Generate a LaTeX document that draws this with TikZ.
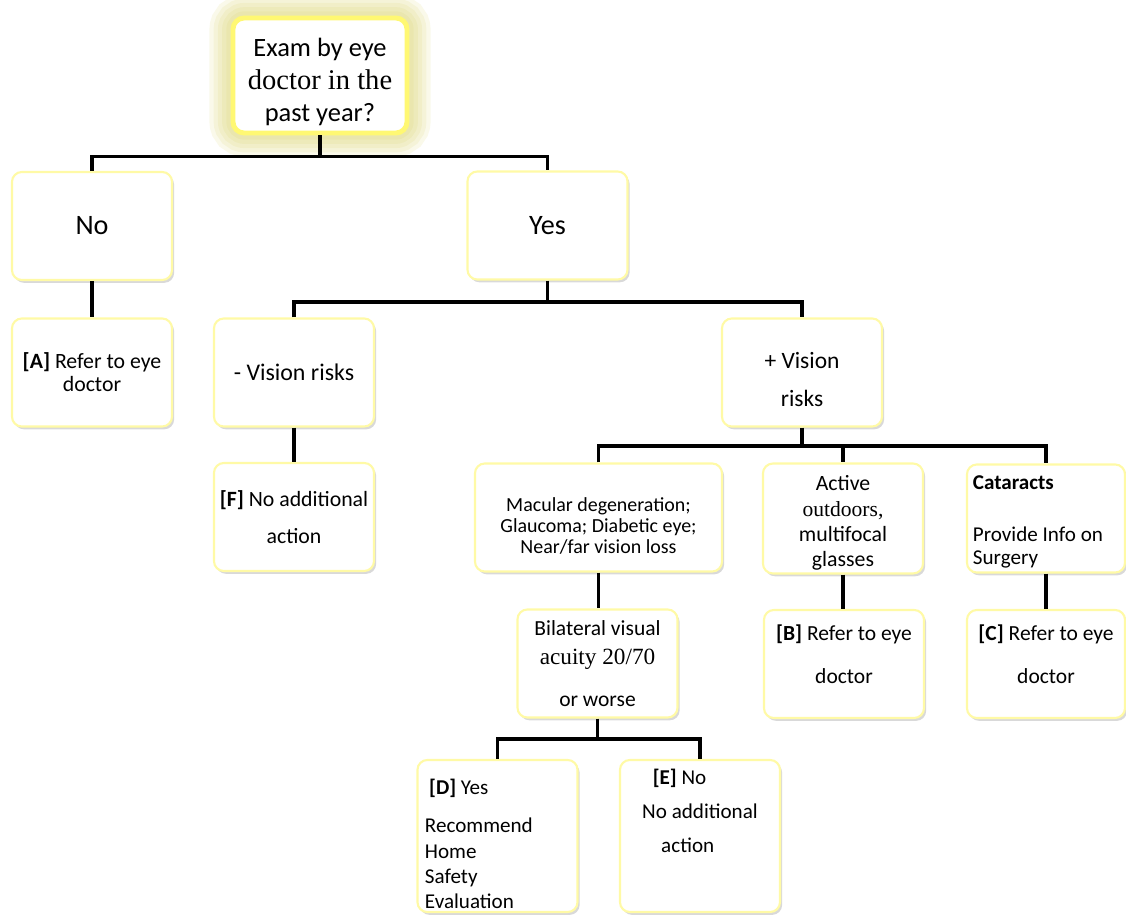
\documentclass[tikz,border=0pt]{standalone}
\usepackage{fontspec}
\setmainfont{Carlito}
\newfontfamily\cambriafont[Scale=1.08]{Liberation Serif}
\usetikzlibrary{shadows,backgrounds}

\tikzset{
  box/.style={rectangle, rounded corners=7pt, draw=yellow!35, line width=1.5pt,
    fill=white, minimum width=4cm, minimum height=2.7cm, align=center, inner sep=2pt,
    drop shadow={opacity=0.3, shadow xshift=1.5pt, shadow yshift=-2pt}},
  rootbox/.style={rectangle, rounded corners=8pt, draw=yellow!55, line width=3.5pt,
    fill=white, minimum width=4.35cm, minimum height=2.875cm, align=center, inner sep=2pt},
  link/.style={line width=2.8pt, black},
}

\begin{document}
\begin{tikzpicture}[x={(0.025cm,0)}, y={(0,-0.025cm)}]
    % Page frame (pixel units, y pointing down)
    \useasboundingbox (0,0) rectangle (1126,916);

    % Root question with yellow glow
    \node[rootbox, font=\fontsize{18.8}{23}\selectfont] (root) at (320,75.5)
      {\rule{0pt}{22.5pt}Exam by eye\\{\cambriafont doctor in the}\\past year?};
    \begin{scope}[on background layer]
      \foreach \w in {30,24,18,12,6} {
        \draw[yellow!60!gray, opacity=0.12, line width=\w pt, rounded corners=10pt]
          (root.north west) rectangle (root.south east);
      }
    \end{scope}

    % First level
    \node[box, font=\fontsize{20}{22}\selectfont] (no) at (92,226) {No};
    \node[box, font=\fontsize{20}{22}\selectfont] (yes) at (547.5,225.5) {Yes};

    % Second level
    \node[box, font=\fontsize{15.5}{16.5}\selectfont] (refA) at (92,372.5)
      {\textbf{[A]} Refer to eye\\doctor};
    \node[box, font=\fontsize{17}{19}\selectfont] (minusrisk) at (294,372.5) {- Vision risks};
    \node[box, font=\fontsize{16.7}{27}\selectfont] (plusrisk) at (802,372.5)
      {\rule{0pt}{22pt}+ Vision\\risks};

    % Third level
    \node[box, font=\fontsize{15.5}{26}\selectfont] (actF) at (294,517)
      {\textbf{[F]} No additional\\action};
    \node[box, minimum width=6.175cm, font=\fontsize{14.2}{15}\selectfont] (macular) at (598.5,517.5)
      {\rule{0pt}{22pt}Macular degeneration;\\Glaucoma; Diabetic eye;\\Near/far vision loss};
    \node[box, font=\fontsize{15.5}{18}\selectfont] (active) at (843,518.5)
      {\rule{0pt}{17.5pt}Active\\{\cambriafont\fontsize{14.2}{18}\selectfont outdoors,}\\multifocal\\glasses};
    \node[box, minimum width=3.95cm, text width=3.65cm, align=flush left, font=\fontsize{15}{16.5}\selectfont] (cataract) at (1046,518.5)
      {\rule{0pt}{15pt}\textbf{Cataracts}\\[20pt]Provide Info on\\Surgery};

    % Fourth level
    \node[box, font=\fontsize{15.3}{21}\selectfont] (acuity) at (597.5,663.5)
      {Bilateral visual\\{\cambriafont acuity 20/70}\\[9pt]or worse};
    \node[box, font=\fontsize{15.3}{30}\selectfont] (refB) at (844,664)
      {\textbf{[B]} Refer to eye\\doctor\\[-16pt]\mbox{}};
    \node[box, minimum width=3.95cm, font=\fontsize{15.3}{30}\selectfont] (refC) at (1046,664)
      {\textbf{[C]} Refer to eye\\doctor\\[-16pt]\mbox{}};

    % Fifth level
    \node[box, minimum height=3.8cm, text width=3.625cm, align=flush left, font=\fontsize{15}{18}\selectfont] (homeD) at (497.5,836)
      {\rule{0pt}{22.7pt}\hspace*{3pt}\textbf{[D]} Yes\\[9pt]Recommend\\Home\\Safety\\Evaluation};
    \node[box, minimum height=3.8cm, align=left, font=\fontsize{15}{24}\selectfont] (noE) at (700,836)
      {\hspace*{0.5em}\textbf{[E]} No\\No additional\\\hspace*{0.9em}action\\[12pt]\mbox{}};

    % Connectors
    \draw[link] (root.south) -- ++(0,21) coordinate (j1);
    \draw[link] (no.north) |- (j1) -| (yes.north);
    \draw[link] (no.south) -- (refA.north);
    \draw[link] (yes.south) -- ++(0,21) coordinate (j2);
    \draw[link] (minusrisk.north) |- (j2) -| (plusrisk.north);
    \draw[link] (minusrisk.south) -- (actF.north);
    \draw[link] (plusrisk.south) -- ++(0,18) coordinate (j3);
    \draw[link] (macular.north) |- (j3) -| (cataract.north);
    \draw[link] (j3 -| active.north) -- (active.north);
    \draw[link] (macular.south) -- (macular.south |- acuity.north);
    \draw[link] (active.south) -- (active.south |- refB.north);
    \draw[link] (cataract.south) -- (cataract.south |- refC.north);
    \draw[link] (acuity.south) -- ++(0,20) coordinate (j4);
    \draw[link] (homeD.north) |- (j4) -| (noE.north);

\end{tikzpicture}
\end{document}
